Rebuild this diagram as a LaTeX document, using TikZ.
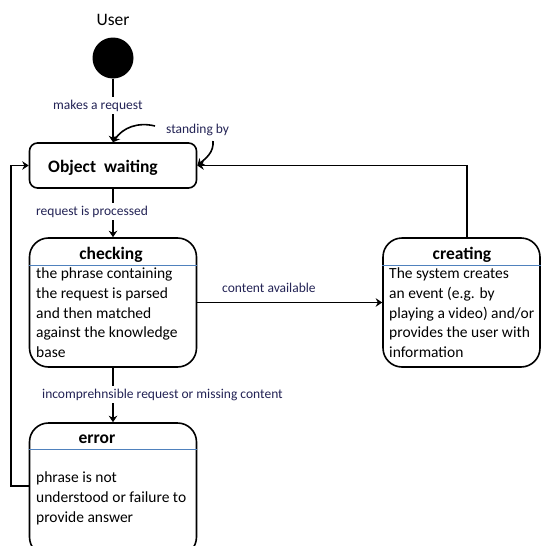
\documentclass[tikz,border=0pt]{standalone}
\usepackage{fontspec}
\setmainfont{Carlito}
\usetikzlibrary{arrows.meta}
\definecolor{lblnavy}{RGB}{35,35,85}
\definecolor{sepblue}{RGB}{79,129,189}

\begin{document}
\begin{tikzpicture}[x=1pt,y=-1pt,
    state/.style={draw, line width=1.6pt, rounded corners=19pt, minimum width=167pt, inner sep=0pt},
    title/.style={anchor=base, inner sep=0pt, font=\fontsize{17.5}{20}\selectfont\bfseries},
    body/.style={anchor=north west, align=left, inner sep=0pt, font=\fontsize{15.5}{19.8}\selectfont},
    lbl/.style={anchor=base west, inner sep=2.5pt, text=lblnavy, font=\fontsize{13.5}{16}\selectfont},
    sep/.style={sepblue, line width=0.8pt},
    conn/.style={line width=1.6pt, -{Stealth[length=6.5pt,width=8.5pt,inset=2.2pt]}}]
\useasboundingbox (0,0) rectangle (541,546);
\clip (0,0) rectangle (541,546);

\node (user) [anchor=base, inner sep=0pt, font=\fontsize{17.5}{20}\selectfont] at (113,25) {User};
\node (start) [circle, fill=black, minimum size=41pt, inner sep=0pt] at (113,58) {};

\node (ow) [state, rounded corners=8pt, minimum height=45pt] at (113,165.5) {};
\node (owtitle) [title] at (103,172) {Object\ \ waiting};

\node (chk) [state, minimum height=129pt] at (113,302.5) {};
\node (chktitle) [title] at (111,259) {checking};
\draw[sep] (chk.west |- 0,265) -- (chk.east |- 0,265);
\node (chkbody) [body] at (36,267.5) {the phrase containing\\the request is parsed\\and then matched\\against the knowledge\\base};

\node (crt) [state, minimum width=157pt, minimum height=129pt] at (461.5,302.5) {};
\node (crttitle) [title] at (462,259) {creating};
\draw[sep] (crt.west |- 0,265) -- (crt.east |- 0,265);
\node (crtbody) [body] at (389,267.5) {The system creates\\an event (e.g. by\\playing a video) and/or\\provides the user with\\information};

\node (err) [state, minimum height=133pt] at (113,489.5) {};
\node (errtitle) [title] at (97,443) {error};
\draw[sep] (err.west |- 0,449) -- (err.east |- 0,449);
\node (errbody) [body] at (36,471.5) {phrase is not\\understood or failure to\\provide answer};

\coordinate (sbhead) at (155,126);
\coordinate (sbfoot) at (213,141);

\draw[conn] (start.south) -- (ow.north);
\node (mkreq) [lbl, fill=white] at (50.5,109) {makes a request};
\node (stby) [lbl] at (163.5,133) {standing by};
\draw[conn] (sbhead) to[bend right=35] (ow.north);
\draw[conn] (sbfoot) to[out=-85,in=40] (ow.east);

\draw[conn] (ow) -- (chk);
\node (rqproc) [lbl, fill=white] at (33.5,215) {request is processed};

\draw[conn] (chk) -- (crt);
\node (cntav) [lbl] at (219.5,292) {content available};

\draw[conn] ([xshift=5.5pt]crt.north) |- (ow.east);

\draw[conn] (chk) -- (err);
\node (incomp) [lbl, fill=white] at (39.5,398) {incomprehnsible request or missing content};

\draw[conn] ([yshift=3.5pt]err.west) -- ++(-17.5,0) |- (ow.west);
\end{tikzpicture}
\end{document}
